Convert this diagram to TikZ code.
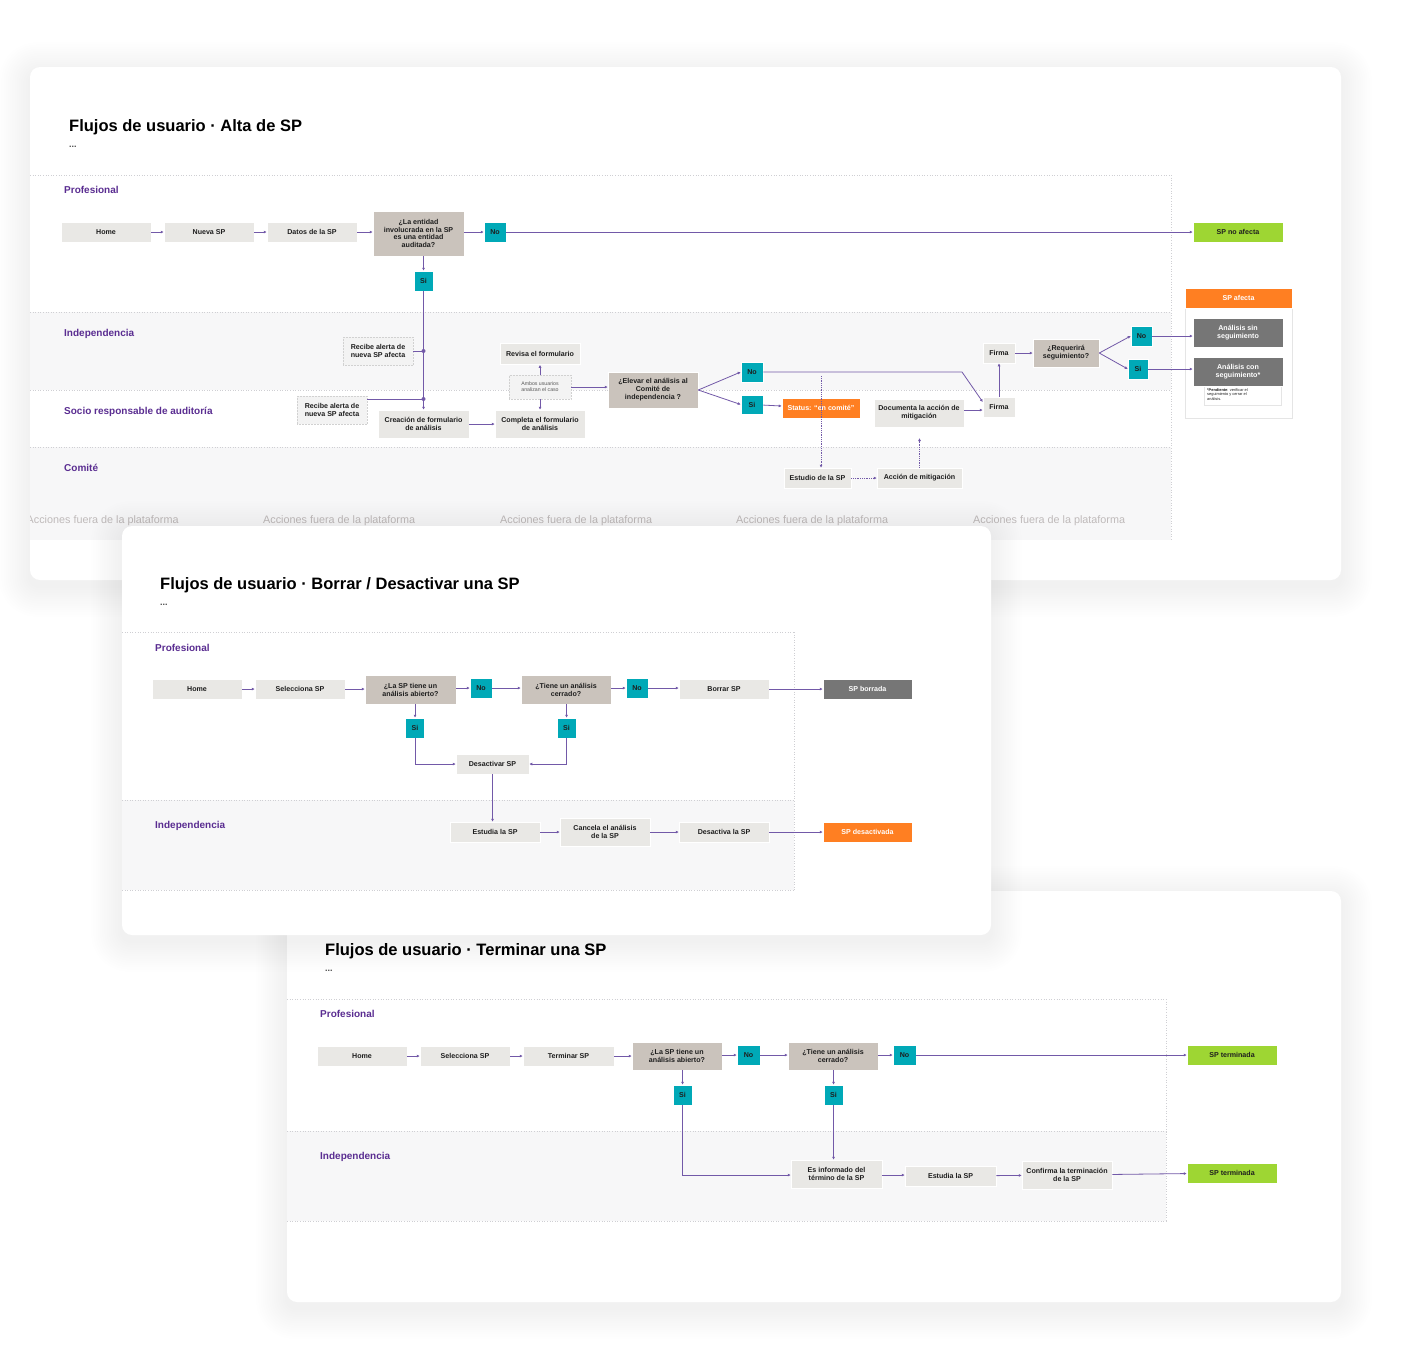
\documentclass[tikz,border=0pt]{standalone}
\usepackage{fontspec}
\setmainfont{Liberation Sans}
\usetikzlibrary{arrows.meta}

% Colours
\definecolor{flowc}{HTML}{7259A8}
\definecolor{boxc}{HTML}{E9E8E5}
\definecolor{qc}{HTML}{CAC3BC}
\definecolor{tealc}{HTML}{00A9B7}
\definecolor{greenc}{HTML}{9ED633}
\definecolor{orangec}{HTML}{FF7F22}
\definecolor{grayc}{HTML}{767676}
\definecolor{lanec}{HTML}{F7F7F8}
\definecolor{purplec}{HTML}{5A2D91}
\definecolor{sepc}{HTML}{CFCFD3}
\definecolor{ghostc}{HTML}{F3F3F3}
\definecolor{offc}{HTML}{BFBABA}
\definecolor{inkc}{HTML}{1E1E1E}

\newcommand\nodefont{\fontsize{7.1}{7.9}\selectfont\bfseries}
\newcommand\titlefont{\fontsize{16.5}{19}\selectfont\bfseries}
\newcommand\lanefont{\fontsize{10}{12}\selectfont\bfseries}

% Panel with a soft shadow
\newcommand\panelcard[4]{%
  \foreach \s in {1,...,14}{%
    \fill[black, opacity=0.0045, rounded corners={10pt+\s*2pt}]
      ({#1-\s*2.2},{#2-\s*2.2+6}) rectangle ({#3+\s*2.2},{#4+\s*2.2+6});}
  \fill[white, rounded corners=10pt] (#1,#2) rectangle (#3,#4);}

\tikzset{
  box/.style={fill=boxc, draw=white, line width=0.5pt, minimum width=90pt,
    minimum height=20pt, inner sep=1pt, align=center, font=\nodefont, text=inkc},
  qbox/.style={box, fill=qc},
  yn/.style={box, fill=tealc, minimum width=22pt},
  endgreen/.style={box, fill=greenc},
  endorange/.style={box, fill=orangec, text=white},
  endgray/.style={box, fill=grayc, text=white},
  ghost/.style={box, fill=ghostc, draw=black!18, densely dotted},
  flow/.style={draw=flowc, line width=0.8pt, -{Latex[length=3pt,width=3pt]}},
  plain/.style={draw=flowc, line width=0.8pt},
  dflow/.style={flow, densely dotted},
  sep/.style={draw=sepc, dotted, line width=0.6pt},
  title/.style={anchor=base west, font=\titlefont, inner sep=0pt},
  dots/.style={anchor=base west, font=\fontsize{9}{10}\selectfont\bfseries, text=black!70, inner sep=0pt},
  lane/.style={anchor=base west, font=\lanefont, text=purplec, inner sep=0pt},
  offlabel/.style={anchor=base west, font=\fontsize{10.8}{12}\selectfont, text=offc, inner sep=0pt}
}

\begin{document}
\begin{tikzpicture}[x=1pt,y=-1pt]
\useasboundingbox (0,0) rectangle (1418,1369);

% ---------------- Panel 1: Alta de SP ----------------
\panelcard{30}{67}{1341}{580}
\fill[lanec] (30,312) rectangle (1171,390);
\fill[lanec] (30,447) rectangle (1171,540);
\foreach \y in {175,312,390,447} \draw[sep] (30,\y) -- (1171,\y);
\draw[sep] (1171,175) -- (1171,540);

\node[title] (t1) at (69,131) {Flujos de usuario · Alta de SP};
\node[dots] (t1d) at (69,147) {...};
\node[lane] (l1a) at (64,193) {Profesional};
\node[lane] (l1b) at (64,336) {Independencia};
\node[lane] (l1c) at (64,414) {Socio responsable de auditoría};
\node[lane] (l1d) at (64,471) {Comité};

\begin{scope}
  \clip (30,447) rectangle (1171,540);
  \foreach \x [count=\i] in {26.5,263,500,736,973}
    \node[offlabel] (acc\i) at (\x,523) {Acciones fuera de la plataforma};
\end{scope}

% Profesional
\node[box] (p1home) at (106,232) {Home};
\node[box] (p1nueva) at (209,232) {Nueva SP};
\node[box] (p1datos) at (312,232) {Datos de la SP};
\node[qbox, minimum width=91pt, minimum height=45pt] (p1q) at (418.5,233.5)
  {¿La entidad\\involucrada en la SP\\es una entidad\\auditada?};
\node[yn] (p1no) at (495,232) {No};
\node[yn, minimum width=19pt] (p1si) at (423.5,281) {Si};
\node[endgreen] (p1noafecta) at (1238,232) {SP no afecta};

% SP afecta card
\draw[draw=black!10, fill=white] (1185,288) rectangle (1292,418);
\draw[draw=black!10, fill=white] (1204,384) rectangle (1281,405);
\node[endorange, minimum width=107pt] (p1afecta) at (1238.5,298) {SP afecta};
\node[endgray, minimum height=29pt] (p1sin) at (1238,332.5) {Análisis sin\\seguimiento};
\node[endgray, minimum height=29pt] (p1con) at (1238,371.5) {Análisis con\\seguimiento*};
\node[anchor=north west, align=left, inner sep=0pt, text=inkc,
  font=\fontsize{3.9}{4.4}\selectfont] (p1note) at (1207,388.5)
  {\textbf{*Pendiente}: verificar el\\seguimiento y cerrar el\\análisis.};

% Independencia
\node[ghost, minimum width=70pt, minimum height=28pt] (p1alertaind) at (378,351) {Recibe alerta de\\nueva SP afecta};
\node[box, minimum width=80pt, minimum height=21pt] (p1revisa) at (540,354) {Revisa el formulario};
\node[ghost, minimum width=62pt, minimum height=24pt, text=black!65,
  font=\fontsize{5.2}{5.8}\selectfont] (p1ambos) at (540,387) {Ambos usuarios\\analizan el caso};
\node[qbox, minimum height=36pt] (p1elevar) at (653,390) {¿Elevar el análisis al\\Comité de\\independencia ?};
\node[yn] (p1no2) at (752,372) {No};
\node[yn, minimum height=19pt] (p1si2) at (752,404.5) {Si};
\node[endorange, minimum width=78pt] (p1status) at (821,408) {Status: “en comité”};
\node[box, minimum width=32pt] (p1firmaa) at (999,353) {Firma};
\node[qbox, minimum width=66pt, minimum height=28pt] (p1req) at (1066,353) {¿Requerirá\\seguimiento?};
\node[yn, minimum width=21pt] (p1no3) at (1141.5,336) {No};
\node[yn, minimum width=20pt] (p1si3) at (1138,369) {Si};

% Socio responsable
\node[ghost, minimum width=70pt, minimum height=28pt] (p1alertasoc) at (332,410) {Recibe alerta de\\nueva SP afecta};
\node[box, minimum width=91pt, minimum height=28pt] (p1creacion) at (423.5,424) {Creación de formulario\\de análisis};
\node[box, minimum height=28pt] (p1completa) at (540,424) {Completa el formulario\\de análisis};
\node[box, minimum height=28pt] (p1documenta) at (919,413) {Documenta la acción de\\mitigación};
\node[box, minimum width=32pt] (p1firmab) at (999,407) {Firma};

% Comite
\node[box, minimum width=67pt] (p1estudio) at (817.5,478) {Estudio de la SP};
\node[box, minimum width=85pt] (p1accion) at (919.5,478) {Acción de mitigación};

% Connectors
\draw[flow] (p1home) -- (p1nueva);
\draw[flow] (p1nueva) -- (p1datos);
\draw[flow] (p1datos) -- (p1datos -| p1q.west);
\draw[flow] (p1q.east |- p1no) -- (p1no);
\draw[flow] (p1no) -- (p1noafecta);
\draw[flow] (p1q.south -| p1si) -- (p1si);
\draw[flow] (p1si) -- (p1creacion);
\coordinate (j1) at (p1si |- p1alertaind);
\coordinate (j2) at (423.5,399);
\draw[plain] (p1alertaind) -- (j1);
\draw[plain] (p1alertasoc.east |- j2) -- (j2);
\fill[flowc] (j1) circle (2pt) (j2) circle (2pt);
\draw[flow] (p1creacion) -- (p1completa);
\draw[flow] (p1ambos) -- (p1revisa);
\draw[flow] (p1ambos) -- (p1completa);
\draw[flow] (p1ambos.east) -- (p1ambos.east -| p1elevar.west);
\draw[flow] (p1elevar.east) -- (p1no2.west);
\draw[flow] (p1elevar.east) -- (p1si2.west);
\coordinate (k1) at (962,372);
\draw[flow] (p1no2) -- (k1) -- (p1firmab.west |- 0,402);
\draw[flow] (p1si2) -- (p1status);
\coordinate (d1) at (821,376);
\coordinate (d2) at (919.5,438);
\draw[dflow] (d1) -- (d1 |- p1estudio.north);
\draw[dflow] (p1estudio) -- (p1accion);
\draw[dflow] (p1accion) -- (d2);
\draw[flow] (p1documenta.east |- 0,410) -- (p1firmab.west |- 0,410);
\draw[flow] (p1firmab) -- (p1firmaa);
\draw[flow] (p1firmaa) -- (p1req);
\draw[flow] (p1req.east) -- (p1no3.west);
\draw[flow] (p1req.east) -- (p1si3.west);
\draw[flow] (p1no3) -- (p1no3 -| p1sin.west);
\draw[flow] (p1si3) -- (p1si3 -| p1con.west);

% ---------------- Panel 3: Terminar una SP ----------------
\panelcard{287}{891}{1341}{1302}
\fill[lanec] (287,1131) rectangle (1166,1221);
\foreach \y in {999,1131,1221} \draw[sep] (287,\y) -- (1166,\y);
\draw[sep] (1166,999) -- (1166,1221);

\node[title] (t3) at (325,955) {Flujos de usuario · Terminar una SP};
\node[dots] (t3d) at (325,971) {...};
\node[lane] (l3a) at (320,1017) {Profesional};
\node[lane] (l3b) at (320,1159) {Independencia};

\node[box] (p3home) at (362,1056) {Home};
\node[box] (p3sel) at (465,1056) {Selecciona SP};
\node[box, minimum width=91pt] (p3term) at (568.5,1056) {Terminar SP};
\node[qbox, minimum height=28pt] (p3q1) at (677,1056) {¿La SP tiene un\\análisis abierto?};
\node[yn, minimum width=23pt] (p3no1) at (748.5,1055) {No};
\node[qbox, minimum height=28pt] (p3q2) at (833,1056) {¿Tiene un análisis\\cerrado?};
\node[yn, minimum width=23pt] (p3no2) at (904.5,1055) {No};
\node[endgreen] (p3fin1) at (1232,1055) {SP terminada};
\node[yn, minimum width=19pt] (p3si1) at (682.5,1095) {Si};
\node[yn, minimum width=19pt] (p3si2) at (833.5,1095) {Si};
\node[box, minimum width=91pt, minimum height=28pt] (p3informado) at (836.5,1174) {Es informado del\\término de la SP};
\node[box, minimum width=91pt] (p3estudia) at (950.5,1176) {Estudia la SP};
\node[box, minimum height=28pt] (p3confirma) at (1067,1175) {Confirma la terminación\\de la SP};
\node[endgreen] (p3fin2) at (1232,1173) {SP terminada};

\draw[flow] (p3home) -- (p3sel);
\draw[flow] (p3sel) -- (p3term);
\draw[flow] (p3term) -- (p3q1);
\draw[flow] (p3q1.east |- p3no1) -- (p3no1);
\draw[flow] (p3no1) -- (p3no1 -| p3q2.west);
\draw[flow] (p3q2.east |- p3no2) -- (p3no2);
\draw[flow] (p3no2) -- (p3fin1);
\draw[flow] (p3q1.south -| p3si1) -- (p3si1);
\draw[flow] (p3si1) |- (p3informado.west |- 0,1175);
\draw[flow] (p3q2.south -| p3si2) -- (p3si2);
\draw[flow] (p3si2) -- (p3si2 |- p3informado.north);
\draw[flow] (p3informado.east |- 0,1175) -- (p3estudia.west |- 0,1175);
\draw[flow] (p3estudia) -- (p3confirma);
\draw[flow] (p3confirma) -- (p3fin2);

% ---------------- Panel 2: Borrar / Desactivar ----------------
\panelcard{122}{526}{991}{935}
\fill[lanec] (122,800) rectangle (794,890);
\foreach \y in {632,800,890} \draw[sep] (122,\y) -- (794,\y);
\draw[sep] (794,632) -- (794,890);

\node[title] (t2) at (160,589) {Flujos de usuario · Borrar / Desactivar una SP};
\node[dots] (t2d) at (160,605) {...};
\node[lane] (l2a) at (155,651) {Profesional};
\node[lane] (l2b) at (155,828) {Independencia};

\node[box] (p2home) at (197,689) {Home};
\node[box] (p2sel) at (300,689) {Selecciona SP};
\node[qbox, minimum width=91pt, minimum height=29pt] (p2q1) at (410.5,689.5) {¿La SP tiene un\\análisis abierto?};
\node[yn] (p2no1) at (481,688) {No};
\node[qbox, minimum height=29pt] (p2q2) at (566,689.5) {¿Tiene un análisis\\cerrado?};
\node[yn] (p2no2) at (637,688) {No};
\node[box] (p2borrar) at (724,689) {Borrar SP};
\node[endgray, minimum width=89pt] (p2borrada) at (867.5,689) {SP borrada};
\node[yn, minimum width=19pt] (p2si1) at (415,728) {Si};
\node[yn, minimum width=19pt] (p2si2) at (566.5,728) {Si};
\node[box, minimum width=73pt] (p2desact) at (492.5,764) {Desactivar SP};
\node[box] (p2estudia) at (495,832) {Estudia la SP};
\node[box, minimum height=28pt] (p2cancela) at (605,832) {Cancela el análisis\\de la SP};
\node[box] (p2desactiva) at (724,832) {Desactiva la SP};
\node[endorange, minimum width=89pt] (p2desactivada) at (867.5,832) {SP desactivada};

\draw[flow] (p2home) -- (p2sel);
\draw[flow] (p2sel) -- (p2sel -| p2q1.west);
\draw[flow] (p2q1.east |- p2no1) -- (p2no1);
\draw[flow] (p2no1) -- (p2no1 -| p2q2.west);
\draw[flow] (p2q2.east |- p2no2) -- (p2no2);
\draw[flow] (p2no2) -- (p2no2 -| p2borrar.west);
\draw[flow] (p2borrar) -- (p2borrada);
\draw[flow] (p2q1.south -| p2si1) -- (p2si1);
\draw[flow] (p2si1) |- (p2desact);
\draw[flow] (p2q2.south -| p2si2) -- (p2si2);
\draw[flow] (p2si2) |- (p2desact);
\draw[flow] (p2desact) -- (p2desact |- p2estudia.north);
\draw[flow] (p2estudia) -- (p2cancela);
\draw[flow] (p2cancela) -- (p2desactiva);
\draw[flow] (p2desactiva) -- (p2desactivada);
\end{tikzpicture}
\end{document}
